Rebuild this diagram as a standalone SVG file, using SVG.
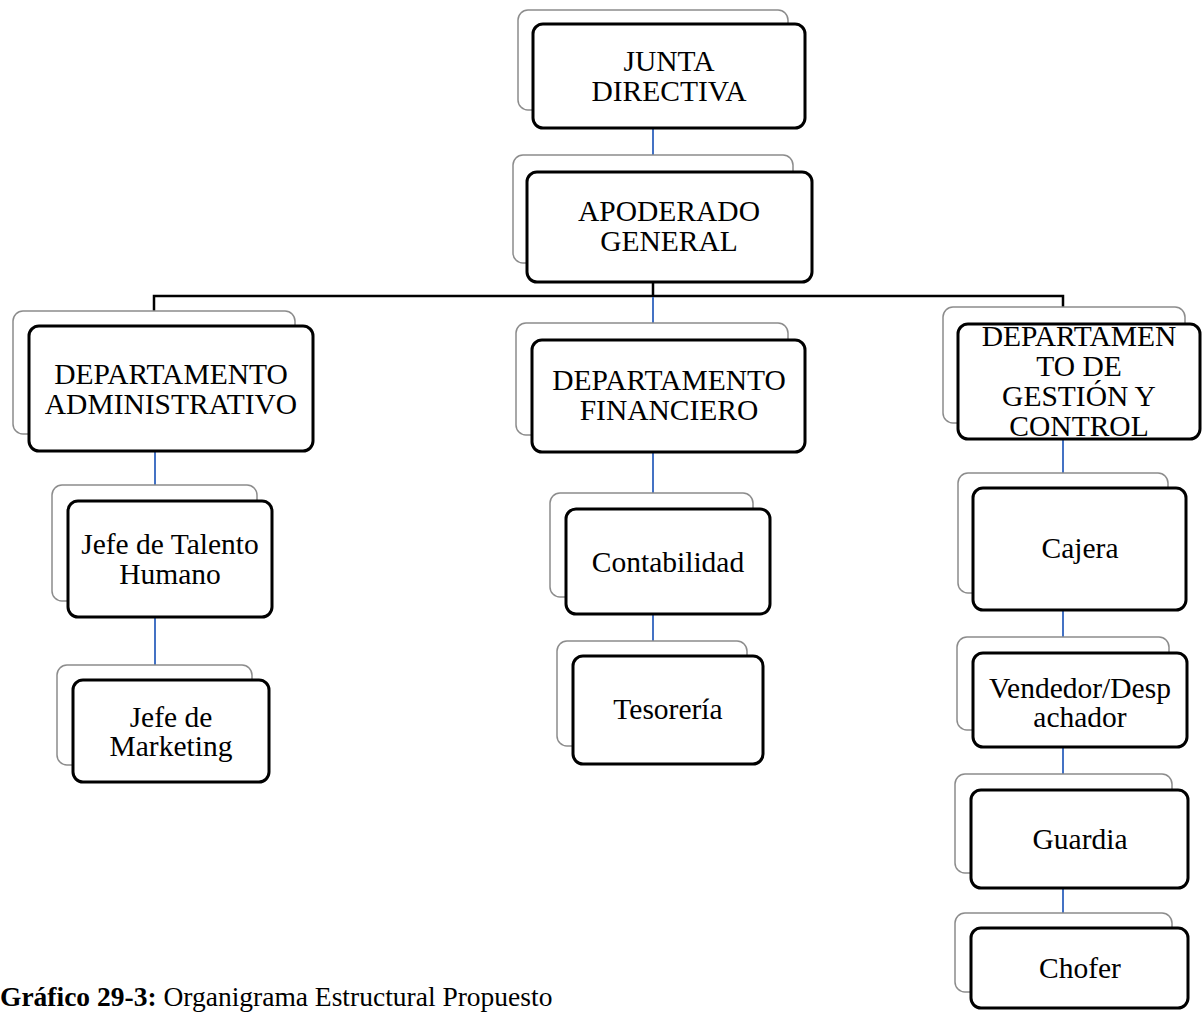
<svg xmlns="http://www.w3.org/2000/svg" width="1202" height="1013" viewBox="0 0 1202 1013">
<style>
.sh{fill:#fff;stroke:#8c8c8c;stroke-width:1.5}
.bx{fill:#fff;stroke:#000;stroke-width:3}
.t{font-family:"Liberation Serif","Times New Roman",serif;font-size:29.5px;fill:#000;text-anchor:middle}
.cb{stroke:#4472c4;stroke-width:2;fill:none}
.ck{stroke:#000;stroke-width:2.5;fill:none}
.cap{font-family:"Liberation Serif","Times New Roman",serif;font-size:27.5px;fill:#000}
</style>
<rect width="1202" height="1013" fill="#fff"/>
<g id="connectors">
<line class="cb" x1="653" y1="128" x2="653" y2="172"/>
<line class="ck" x1="653" y1="282" x2="653" y2="296"/>
<polyline class="ck" points="154,311 154,296 1063,296 1063,308"/>
<line class="cb" x1="653" y1="297" x2="653" y2="340"/>
<line class="cb" x1="155" y1="451" x2="155" y2="501"/>
<line class="cb" x1="155" y1="617" x2="155" y2="680"/>
<line class="cb" x1="653" y1="452" x2="653" y2="509"/>
<line class="cb" x1="653" y1="614" x2="653" y2="656"/>
<line class="cb" x1="1063" y1="439" x2="1063" y2="488"/>
<line class="cb" x1="1063" y1="610" x2="1063" y2="653"/>
<line class="cb" x1="1063" y1="747" x2="1063" y2="790"/>
<line class="cb" x1="1063" y1="888" x2="1063" y2="928"/>
</g>
<g id="junta">
<rect class="sh" x="518" y="10" width="270" height="100" rx="10"/>
<rect class="bx" x="533" y="24" width="272" height="104" rx="10"/>
<text class="t" x="669" y="71">JUNTA</text>
<text class="t" x="669" y="101">DIRECTIVA</text>
</g>
<g id="apoderado">
<rect class="sh" x="513" y="155" width="280" height="108" rx="10"/>
<rect class="bx" x="527" y="172" width="285" height="110" rx="10"/>
<text class="t" x="669" y="221">APODERADO</text>
<text class="t" x="669" y="251">GENERAL</text>
</g>
<g id="dep-admin">
<rect class="sh" x="13" y="311" width="282" height="123" rx="10"/>
<rect class="bx" x="29" y="326" width="284" height="125" rx="10"/>
<text class="t" x="171" y="384">DEPARTAMENTO</text>
<text class="t" x="171" y="414">ADMINISTRATIVO</text>
</g>
<g id="dep-fin">
<rect class="sh" x="516" y="323" width="272" height="112" rx="10"/>
<rect class="bx" x="532" y="340" width="273" height="112" rx="10"/>
<text class="t" x="669" y="390">DEPARTAMENTO</text>
<text class="t" x="669" y="420">FINANCIERO</text>
</g>
<g id="dep-gestion">
<rect class="sh" x="943" y="307" width="242" height="116" rx="10"/>
<rect class="bx" x="958" y="324" width="242" height="115" rx="10"/>
<text class="t" x="1079" y="346">DEPARTAMEN</text>
<text class="t" x="1079" y="376">TO DE</text>
<text class="t" x="1079" y="406">GESTIÓN Y</text>
<text class="t" x="1079" y="436">CONTROL</text>
</g>
<g id="talento">
<rect class="sh" x="52" y="485" width="205" height="116" rx="10"/>
<rect class="bx" x="68" y="501" width="204" height="116" rx="10"/>
<text class="t" x="170" y="554">Jefe de Talento</text>
<text class="t" x="170" y="584">Humano</text>
</g>
<g id="marketing">
<rect class="sh" x="57" y="665" width="195" height="100" rx="10"/>
<rect class="bx" x="73" y="680" width="196" height="102" rx="10"/>
<text class="t" x="171" y="727">Jefe de</text>
<text class="t" x="171" y="756">Marketing</text>
</g>
<g id="contabilidad">
<rect class="sh" x="550" y="493" width="203" height="104" rx="10"/>
<rect class="bx" x="566" y="509" width="204" height="105" rx="10"/>
<text class="t" x="668" y="572">Contabilidad</text>
</g>
<g id="tesoreria">
<rect class="sh" x="557" y="641" width="190" height="105" rx="10"/>
<rect class="bx" x="573" y="656" width="190" height="108" rx="10"/>
<text class="t" x="668" y="719">Tesorería</text>
</g>
<g id="cajera">
<rect class="sh" x="958" y="473" width="210" height="120" rx="10"/>
<rect class="bx" x="973" y="488" width="213" height="122" rx="10"/>
<text class="t" x="1080" y="558">Cajera</text>
</g>
<g id="vendedor">
<rect class="sh" x="957" y="637" width="212" height="93" rx="10"/>
<rect class="bx" x="973" y="653" width="214" height="94" rx="10"/>
<text class="t" x="1080" y="698">Vendedor/Desp</text>
<text class="t" x="1080" y="727">achador</text>
</g>
<g id="guardia">
<rect class="sh" x="955" y="774" width="217" height="99" rx="10"/>
<rect class="bx" x="971" y="790" width="217" height="98" rx="10"/>
<text class="t" x="1080" y="849">Guardia</text>
</g>
<g id="chofer">
<rect class="sh" x="955" y="913" width="217" height="79" rx="10"/>
<rect class="bx" x="971" y="928" width="217" height="80" rx="10"/>
<text class="t" x="1080" y="978">Chofer</text>
</g>
<text class="cap" x="0" y="1006"><tspan font-weight="bold">Gráfico 29-3:</tspan> Organigrama Estructural Propuesto</text>
</svg>
